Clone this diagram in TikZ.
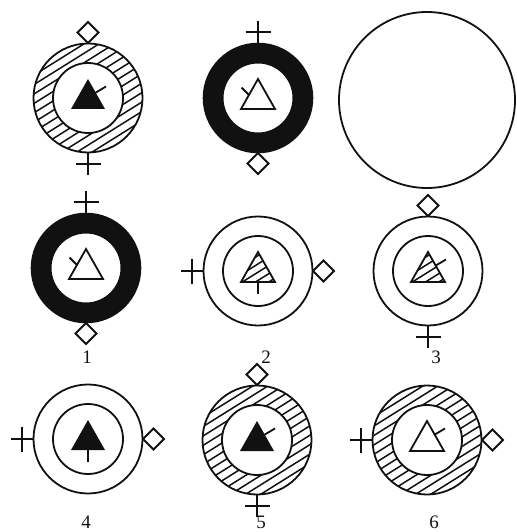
\documentclass[tikz,border=0pt]{standalone}
\usepackage{fontspec}
\setmainfont{Liberation Serif}
\usepackage{xcolor}
\usetikzlibrary{calc}
\definecolor{ink}{HTML}{111111}

% ring, triangle and mark pictures (drawn about the symbol centre)
\tikzset{
  ring white/.pic={\draw[sym] (0,0) circle (54.5) (0,0) circle (35);},
  ring black/.pic={\fill[ink, even odd rule] (0,0) circle (55.3) (0,0) circle (34.5);},
  ring hatched/.pic={
    \begin{scope}[even odd rule]
      \clip (0,0) circle (54.5) (0,0) circle (35);
      \foreach \d in {-64,-56,...,64}
        \draw[hatch, rotate=32] (-70,\d) -- (70,\d);
    \end{scope}
    \draw[sym] (0,0) circle (54.5) (0,0) circle (35);},
  tri filled/.pic={\fill[ink] (0,-19) -- (-17,11) -- (17,11) -- cycle;},
  tri hollow/.pic={\draw[sym] (0,-19) -- (-17,11) -- (17,11) -- cycle;},
  tri hatched/.pic={
    \begin{scope}
      \clip (0,-19) -- (-17,11) -- (17,11) -- cycle;
      \foreach \d in {-27,-20,...,22}
        \draw[hatch, rotate=32] (-40,\d) -- (40,\d);
    \end{scope}
    \draw[sym] (0,-19) -- (-17,11) -- (17,11) -- cycle;},
  tick right/.pic={\draw[sym] (7,-5) -- (18,-11.5);},
  tick left/.pic={\draw[sym] (-9,-3) -- (-16.5,-10.5);},
  stem/.pic={\draw[sym] (0,11) -- (0,23);},
  plus mark/.pic={\draw[sym] (54.5,0) -- (77,0) (66,-12.5) -- (66,12.5);},
  diamond mark/.pic={\draw[sym] (55,0) -- (65.5,-10.5) -- (76,0) -- (65.5,10.5) -- cycle;},
}

\begin{document}
\begin{tikzpicture}[
  x=1pt, y=-1pt,
  sym/.style={draw=ink, line width=1.8pt, line join=miter},
  hatch/.style={draw=ink, line width=1.5pt},
  lbl/.style={font=\fontsize{19}{21}\selectfont, text=ink, inner sep=0pt},
]
\useasboundingbox (0,0) rectangle (516,532);

% ---------------- symbol centres ----------------
\coordinate (sa) at (88,98);
\coordinate (sb) at (258,98);
\coordinate (sc) at (427,100);
\coordinate (s1) at (86,268);
\coordinate (s2) at (258,271);
\coordinate (s3) at (428,271);
\coordinate (s4) at (88,439);
\coordinate (s5) at (257,440);
\coordinate (s6) at (427,440);

% ---------------- top row ----------------
\pic at (sa) {ring hatched};
\pic at (sa) {tri filled};
\pic at (sa) {tick right};
\pic[rotate=90] at (sa) {diamond mark};
\pic[rotate=-90] at (sa) {plus mark};

\pic at (sb) {ring black};
\pic at (sb) {tri hollow};
\pic at (sb) {tick left};
\pic[rotate=90] at (sb) {plus mark};
\pic[rotate=-90] at (sb) {diamond mark};

\draw[sym] (sc) circle (88);

% ---------------- middle row ----------------
\pic at (s1) {ring black};
\pic at (s1) {tri hollow};
\pic at (s1) {tick left};
\pic[rotate=90] at (s1) {plus mark};
\pic[rotate=-90] at (s1) {diamond mark};

\pic at (s2) {ring white};
\pic at (s2) {tri hatched};
\pic at (s2) {stem};
\pic[rotate=180] at (s2) {plus mark};
\pic at (s2) {diamond mark};

\pic at (s3) {ring white};
\pic at (s3) {tri hatched};
\pic at (s3) {tick right};
\pic[rotate=90] at (s3) {diamond mark};
\pic[rotate=-90] at (s3) {plus mark};

\node[lbl] (lab1) at (87,357) {1};
\node[lbl] (lab2) at (266,357) {2};
\node[lbl] (lab3) at (436,357) {3};

% ---------------- bottom row ----------------
\pic at (s4) {ring white};
\pic at (s4) {tri filled};
\pic at (s4) {stem};
\pic[rotate=180] at (s4) {plus mark};
\pic at (s4) {diamond mark};

\pic at (s5) {ring hatched};
\pic at (s5) {tri filled};
\pic at (s5) {tick right};
\pic[rotate=90] at (s5) {diamond mark};
\pic[rotate=-90] at (s5) {plus mark};

\pic at (s6) {ring hatched};
\pic at (s6) {tri hollow};
\pic at (s6) {tick right};
\pic[rotate=180] at (s6) {plus mark};
\pic at (s6) {diamond mark};

\node[lbl] (lab4) at (86,522) {4};
\node[lbl] (lab5) at (261,522) {5};
\node[lbl] (lab6) at (434,522) {6};

\end{tikzpicture}
\end{document}
